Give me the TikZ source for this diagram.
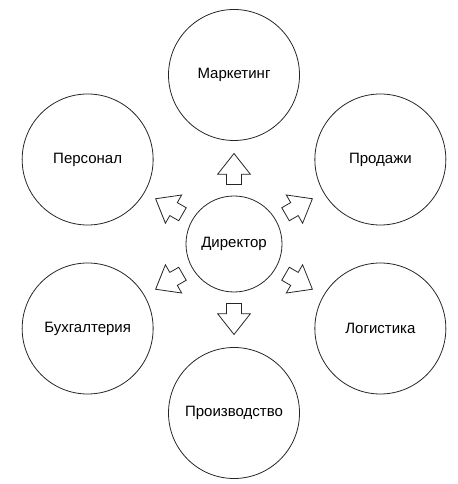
\documentclass[tikz,border=0pt]{standalone}
\usepackage{fontspec}
\setmainfont{Liberation Sans}
\usetikzlibrary{calc}
\begin{document}
\begin{tikzpicture}[x=1bp,y=1bp,
  unit/.style={draw=black!85, line width=0.8bp, circle, inner sep=0pt, minimum size=131bp,
    font=\fontsize{15bp}{18bp}\selectfont},
  boss/.style={unit, minimum size=96bp},
  arrowline/.style={draw=black!85, line width=0.8bp, fill=white, line join=miter},
  blockarrow/.pic={\path[arrowline] (-15.5,-7.5) -- (-5.2,-7.5) -- (-5.2,-16.3) -- (15.5,0)
     -- (-5.2,16.3) -- (-5.2,7.5) -- (-15.5,7.5) -- cycle;}
]
\useasboundingbox (0,0) rectangle (458,484);
\node[boss] (dir) at (234,240) {Директор};
\node[unit] (mkt) at ($(dir)+(90:169)$) {Маркетинг};
\node[unit] (per) at ($(dir)+(150:169)$) {Персонал};
\node[unit] (buh) at ($(dir)+(210:169)$) {Бухгалтерия};
\node[unit] (pro) at ($(dir)+(270:169)$) {Производство};
\node[unit] (log) at ($(dir)+(330:169)$) {Логистика};
\node[unit] (sal) at ($(dir)+(30:169)$) {Продажи};
\foreach \t/\a in {mkt/90, per/150, buh/210, pro/270, log/330, sal/30}
  \pic[rotate=\a] at ($(dir.center)!75bp!(\t.center)$) {blockarrow};
\end{tikzpicture}
\end{document}
